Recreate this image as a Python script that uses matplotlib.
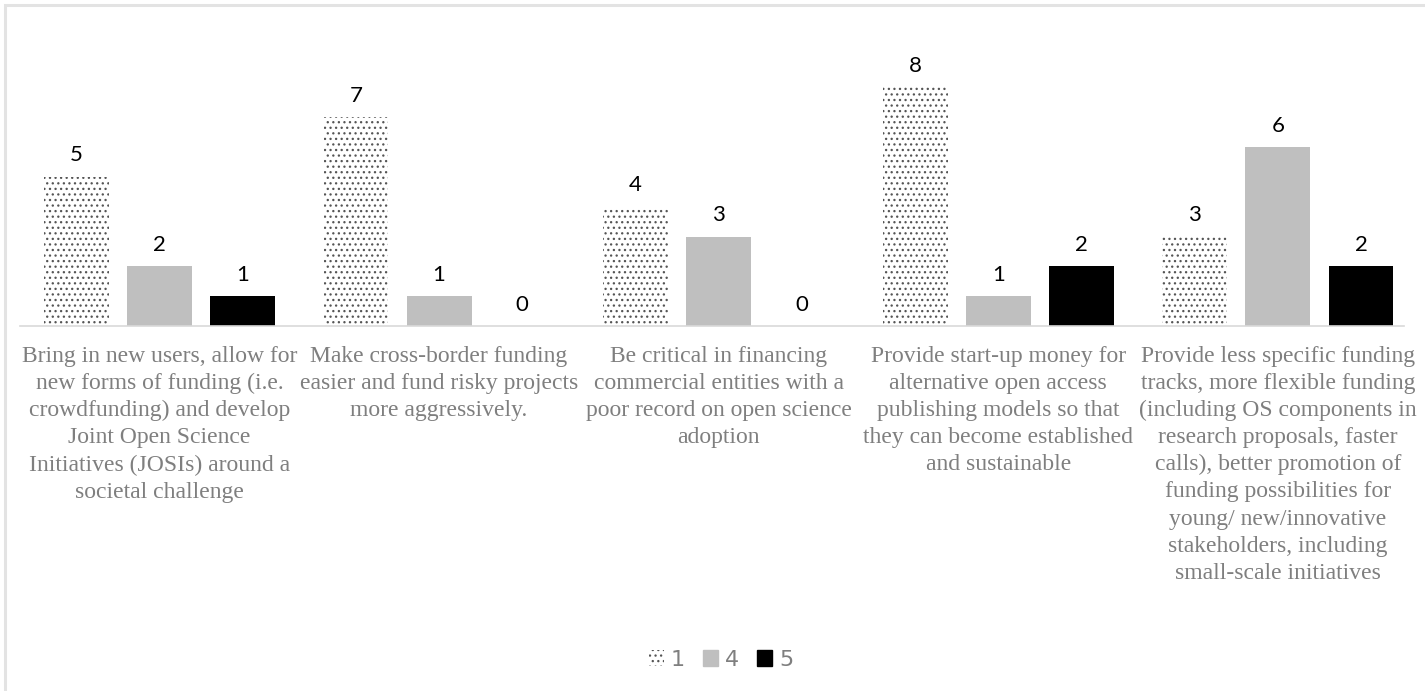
import numpy as np
import matplotlib
matplotlib.use("Agg")
import matplotlib.pyplot as plt
from matplotlib.patches import Patch, Rectangle

# --------------------------------------------------
# DATA
# --------------------------------------------------
CATEGORIES = [
    "Bring in new users, allow for\nnew forms of funding (i.e.\ncrowdfunding) and develop\nJoint Open Science\nInitiatives (JOSIs) around a\nsocietal challenge",
    "Make cross-border funding\neasier and fund risky projects\nmore aggressively.",
    "Be critical in financing\ncommercial entities with a\npoor record on open science\nadoption",
    "Provide start-up money for\nalternative open access\npublishing models so that\nthey can become established\nand sustainable",
    "Provide less specific funding\ntracks, more flexible funding\n(including OS components in\nresearch proposals, faster\ncalls), better promotion of\nfunding possibilities for\nyoung/ new/innovative\nstakeholders, including\nsmall-scale initiatives",
]
SERIES_NAMES = ["1", "4", "5"]
VALUES_1 = [5, 7, 4, 8, 3]
VALUES_4 = [2, 1, 3, 1, 6]
VALUES_5 = [1, 0, 0, 2, 2]

# --------------------------------------------------
# STYLE
# --------------------------------------------------
plt.rcParams["hatch.linewidth"] = 0.9
LABEL_GRAY = "#7f7f7f"
AXIS_GRAY = "#d9d9d9"
DOT_COLOR = "#555555"

fig = plt.figure(figsize=(14.25, 6.91), dpi=100)
ax = fig.add_axes([19.7 / 1425, 0.528, 1398 / 1425, 0.389])

x = np.arange(len(CATEGORIES))
step = 0.297
width = 0.232

series = [
    (VALUES_1, dict(facecolor="white", edgecolor=DOT_COLOR, hatch="...", linewidth=0)),
    (VALUES_4, dict(color="#bfbfbf")),
    (VALUES_5, dict(color="black")),
]

for k, (vals, style) in enumerate(series):
    pos = x + (k - 1) * step
    ax.bar(pos, vals, width, **style)
    for xi, v in zip(pos, vals):
        ax.text(xi, v + 0.38, str(v), ha="center", va="bottom",
                fontsize=16, family=["Lato", "DejaVu Sans"], color="black")

ax.set_xlim(-0.5, len(CATEGORIES) - 0.5)
ax.set_ylim(0, 9)
ax.set_yticks([])
ax.set_xticks([])
for s in ["top", "right", "left"]:
    ax.spines[s].set_visible(False)
ax.spines["bottom"].set_color(AXIS_GRAY)
ax.spines["bottom"].set_linewidth(1.2)
ax.spines["bottom"].set_bounds(-0.5, 4.45)

for xi, lab in zip(x, CATEGORIES):
    ax.text(xi, -0.65, lab, ha="center", va="top", fontsize=17,
            family="Liberation Serif", color=LABEL_GRAY, linespacing=1.38)

# legend
handles = [
    Patch(facecolor="white", edgecolor=DOT_COLOR, hatch="...", linewidth=0),
    Patch(color="#bfbfbf"),
    Patch(color="black"),
]
leg = fig.legend(handles, SERIES_NAMES, loc="center", bbox_to_anchor=(0.506, 0.045),
                 ncol=3, frameon=False, handlelength=0.7, handleheight=0.7,
                 handletextpad=0.3, columnspacing=0.8,
                 prop={"family": ["Liberation Sans Narrow", "DejaVu Sans"], "size": 16})
for t in leg.get_texts():
    t.set_color("#7f7f7f")

# outer chart border (only top/left visible in the crop)
fig.patches.append(Rectangle((5 / 1425, -0.1), 1.2, 1 - 5 / 691 + 0.1,
                             transform=fig.transFigure, fill=False,
                             edgecolor="#e3e3e3", linewidth=2.2))

fig.savefig("out.png", dpi=100)
